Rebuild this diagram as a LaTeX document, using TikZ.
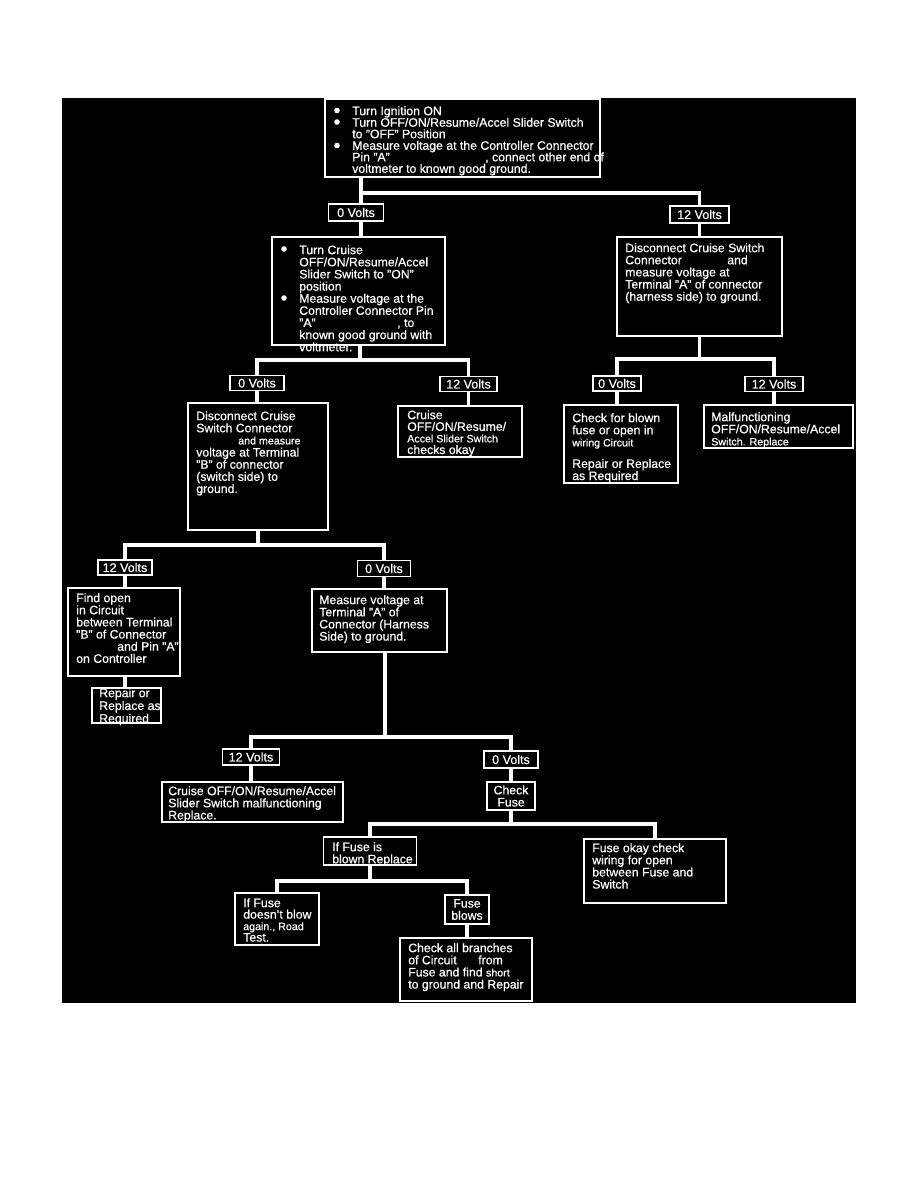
\documentclass[tikz,border=0pt]{standalone}
\usepackage{fontspec}
\setmainfont{Liberation Sans}[FakeBold=0.6]
\usetikzlibrary{calc}
\newcommand\tf{\fontsize{9.2}{9.1}\selectfont}
\newcommand\sm{\fontsize{8}{9.1}\selectfont}
\begin{document}
\begin{tikzpicture}[x=0.75pt,y=-0.75pt,
  box/.style={draw=white, line width=1.2pt, fill=black, inner sep=0pt, text=white, align=center, font=\tf},
  wh/.style 2 args={minimum width=#1*0.75pt, minimum height=#2*0.75pt},
  lbl/.style={box, font=\fontsize{9.4}{9.4}\selectfont},
  txt/.style={anchor=north west, inner sep=0pt, text=white, align=left, font=\tf},
  conn/.style={draw=white, line width=2.4pt, line join=miter},
  bul/.style={fill=white}
]
\useasboundingbox (0,0) rectangle (918,1188);
\fill[white] (0,0) rectangle (918,1188);
\fill[black] (62,98) rectangle (856,1003);

% boxes
\node[box, wh={275}{78}]  (b1)  at (462.5,138) {};
\node[lbl, wh={55}{17}]   (L0a) at (356,212.5) {0 Volts};
\node[lbl, wh={59}{17}]   (L12a) at (699.5,214.5) {12 Volts};
\node[box, wh={173}{108}] (b2)  at (358.5,291) {};
\node[box, wh={165}{99}]  (b3)  at (699.5,286.5) {};
\node[lbl, wh={54}{15}]   (L0b) at (257,383) {0 Volts};
\node[lbl, wh={57}{15}]   (L12b) at (468.5,384) {12 Volts};
\node[box, wh={140}{127}] (b4)  at (258,466.5) {};
\node[box, wh={124}{51}]  (b5)  at (460,431.5) {};
\node[lbl, wh={48}{15}]   (L0c) at (617,383.5) {0 Volts};
\node[lbl, wh={58}{15}]   (L12c) at (774,384) {12 Volts};
\node[box, wh={114}{78}]  (b6)  at (621,444) {};
\node[box, wh={149}{43}]  (b7)  at (778.5,426.5) {};
\node[lbl, wh={54}{15}]   (L12d) at (125,567.5) {12 Volts};
\node[lbl, wh={53}{16}]   (L0d) at (384,568.5) {0 Volts};
\node[box, wh={112}{88}]  (b8)  at (124,632) {};
\node[box, wh={69}{35}]   (b9)  at (126.5,705.5) {};
\node[box, wh={135}{63}]  (b10) at (379.5,620.5) {};
\node[lbl, wh={57}{16}]   (L12e) at (251,757) {12 Volts};
\node[lbl, wh={54}{17}]   (L0e) at (511,759.5) {0 Volts};
\node[box, wh={181}{40}]  (b11) at (252.5,802) {};
\node[box, wh={48}{28}]   (b12) at (511,796) {Check\\Fuse};
\node[box, wh={93}{28}]   (b13) at (370,851) {};
\node[box, wh={142}{64}]  (b14) at (655,871) {};
\node[box, wh={84}{52}]   (b15) at (277,919) {};
\node[box, wh={44}{29}]   (b16) at (467,909.5) {Fuse\\blows};
\node[box, wh={132}{63}]  (b17) at (466,969.5) {};

% junctions
\coordinate (j1) at (361,193);
\coordinate (j2) at (360,360);
\coordinate (j3) at (700,359);
\coordinate (j4) at (258,545);
\coordinate (j5) at (385,737);
\coordinate (j6) at (511,824);
\coordinate (j7) at (370,881);

% connectors
\draw[conn] (b1.south -| j1) -- (L0a.north -| j1);
\draw[conn] (j1) -| (L12a.north);
\draw[conn] (L0a.south -| j1) -- (b2.north -| j1);
\draw[conn] (L12a.south) -- (b3.north);

\draw[conn] (b2.south -| j2) -- (j2);
\draw[conn] (L0b.north) |- (L12b.north |- j2) -- (L12b.north);
\draw[conn] (L0b.south) -- (L0b.south |- b4.north);
\draw[conn] (L12b.south) -- (L12b.south |- b5.north);

\draw[conn] (b3.south) -- (b3.south |- j3);
\draw[conn] (L0c.north) |- (L12c.north |- j3) -- (L12c.north);
\draw[conn] (L0c.south) -- (L0c.south |- b6.north);
\draw[conn] (L12c.south) -- (L12c.south |- b7.north);

\draw[conn] (b4.south) -- (b4.south |- j4);
\draw[conn] (L12d.north) |- (L0d.north |- j4) -- (L0d.north);
\draw[conn] (L12d.south) -- (L12d.south |- b8.north);
\draw[conn] (b8.south -| L12d) -- (b9.north -| L12d);
\draw[conn] (L0d.south) -- (L0d.south |- b10.north);

\draw[conn] (b10.south -| j5) -- (j5);
\draw[conn] (L12e.north) |- (L0e.north |- j5) -- (L0e.north);
\draw[conn] (L12e.south) -- (L12e.south |- b11.north);
\draw[conn] (L0e.south) -- (b12.north);

\draw[conn] (b12.south) -- (j6);
\draw[conn] (b13.north) |- (b14.north |- j6) -- (b14.north);

\draw[conn] (b13.south) -- (j7);
\draw[conn] (b15.north) |- (b16.north |- j7) -- (b16.north);
\draw[conn] (b16.south) -- (b16.south |- b17.north);

% bullets
\fill[bul] (337,110.5) circle (2.8);
\fill[bul] (337,122) circle (2.8);
\fill[bul] (337,145.5) circle (2.8);
\fill[bul] (284,249) circle (2.8);
\fill[bul] (284,298) circle (2.8);

% texts
\node[txt, font=\fontsize{9.2}{8.65}\selectfont] (t1) at (352,106) {Turn Ignition ON\\
Turn OFF/ON/Resume/Accel Slider Switch\\
to ''OFF'' Position\\
Measure voltage at the Controller Connector\\
\makebox[99.75pt][l]{Pin ''A''}, connect other end of\\
voltmeter to known good ground.};

\node[txt] (t2) at (299,245) {Turn Cruise\\
OFF/ON/Resume/Accel\\
Slider Switch to ''ON''\\
position\\
Measure voltage at the\\
Controller Connector Pin\\
\makebox[73.5pt][l]{''A''}, to\\
known good ground with\\
voltmeter.};

\node[txt] (t3) at (625,243) {Disconnect Cruise Switch\\
\makebox[76.5pt][l]{Connector}and\\
measure voltage at\\
Terminal ''A'' of connector\\
(harness side) to ground.};

\node[txt] (t4) at (196,411) {Disconnect Cruise\\
Switch Connector\\
\hspace*{31.5pt}{\sm and measure}\\
voltage at Terminal\\
''B'' of connector\\
(switch side) to\\
ground.};

\node[txt, font=\fontsize{9.2}{8.7}\selectfont] (t5) at (407,410) {Cruise\\
OFF/ON/Resume/\\
{\sm Accel Slider Switch}\\
checks okay};

\node[txt] (t6) at (572,413) {Check for blown\\
fuse or open in\\
{\sm wiring Circuit}\\[7pt]
Repair or Replace\\
as Required};

\node[txt] (t7) at (711,412) {Malfunctioning\\
OFF/ON/Resume/Accel\\
{\sm Switch. Replace}};

\node[txt] (t8) at (76,593) {Find open\\
in Circuit\\
between Terminal\\
''B'' of Connector\\
\hspace*{30.75pt}and Pin ''A''\\
on Controller};

\node[txt, font=\fontsize{9.2}{7.8}\selectfont] (t9) at (99,688) {Repair or\\
Replace as\\
Required};

\node[txt] (t10) at (319,595) {Measure voltage at\\
Terminal ''A'' of\\
Connector (Harness\\
Side) to ground.};

\node[txt] (t11) at (168,786) {Cruise OFF/ON/Resume/Accel\\
Slider Switch malfunctioning\\
Replace.};

\node[txt] (t13) at (332,842) {If Fuse is\\
blown Replace};

\node[txt] (t14) at (592,843) {Fuse okay check\\
wiring for open\\
between Fuse and\\
Switch};

\node[txt, font=\fontsize{9.2}{8.6}\selectfont] (t15) at (243,898) {If Fuse\\
doesn't blow\\
{\sm again., Road}\\
Test.};

\node[txt] (t17) at (408,943) {Check all branches\\
\makebox[52.5pt][l]{of Circuit}from\\
Fuse and find {\sm short}\\
to ground and Repair};
\end{tikzpicture}
\end{document}
